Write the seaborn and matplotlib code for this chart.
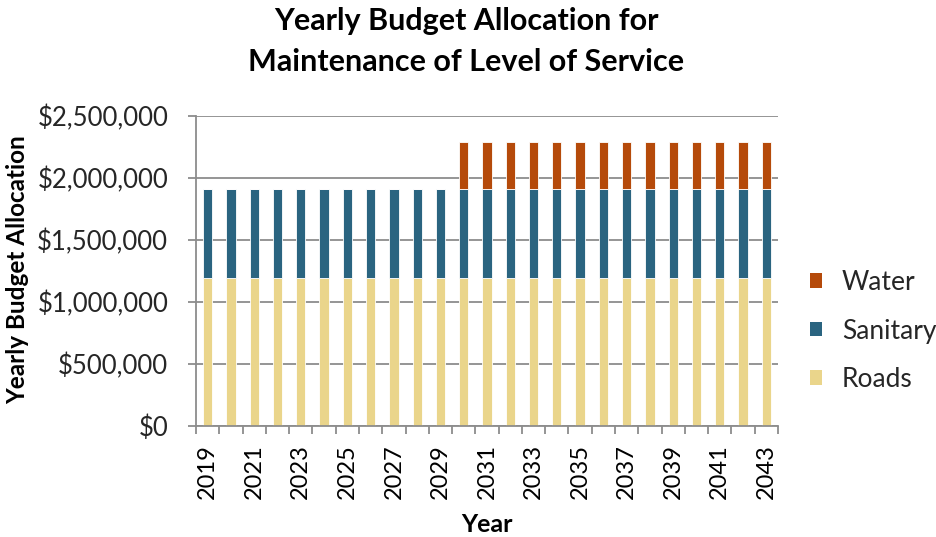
import matplotlib
matplotlib.use("Agg")
import matplotlib.pyplot as plt
import matplotlib.ticker as mticker
from matplotlib.patches import Patch
import seaborn as sns
import numpy as np
import pandas as pd

years = list(range(2019, 2044))
roads = [1190000] * 25
sanitary = [720000] * 25
water = [0] * 11 + [380000] * 14
series_order = ["Roads", "Sanitary", "Water"]
legend_order = ["Water", "Sanitary", "Roads"]
title_lines = ["Yearly Budget Allocation for", "Maintenance of Level of Service"]

sns.set_theme(style="white")
plt.rcParams["font.family"] = ["Lato", "DejaVu Sans"]

colors = {"Roads": "#EAD58B", "Sanitary": "#2A6480", "Water": "#B54A0A"}
grid_c = "#8C8C8C"

df = pd.DataFrame({"Year": [str(y) for y in years], "Roads": roads,
                   "Sanitary": sanitary, "Water": water})

W, H = 937, 537
fig = plt.figure(figsize=(W / 100, H / 100), dpi=100)
ax = fig.add_axes([196 / W, 1 - 426 / H, (778 - 196) / W, (426 - 116) / H])

bottom = np.zeros(len(years))
for name in series_order:
    sns.barplot(data=df, x="Year", y=name, bottom=bottom, color=colors[name],
                width=0.4, edgecolor="#FFFFFF", linewidth=0.6, ax=ax,
                saturation=1)
    bottom = bottom + df[name].to_numpy()

ax.set_ylim(0, 2500000)
ax.set_xlim(-0.5, len(years) - 0.5)
ax.yaxis.set_major_locator(mticker.MultipleLocator(500000))
ax.yaxis.set_major_formatter(mticker.FuncFormatter(lambda v, p: f"${v:,.0f}"))
ax.grid(axis="y", color=grid_c, linewidth=1.3)
ax.set_axisbelow(True)

for s in ["top", "right"]:
    ax.spines[s].set_visible(False)
for s in ["left", "bottom"]:
    ax.spines[s].set_color(grid_c)
    ax.spines[s].set_linewidth(1.3)

# category labels every other year, tick marks between categories
ax.set_xticks(range(0, len(years), 2))
ax.set_xticklabels([str(y) for y in years[::2]], rotation=90)
ax.set_xticks(np.arange(-0.5, len(years), 1.0), minor=True)
ax.tick_params(axis="x", which="major", length=0, pad=13, labelsize=17, colors="#000000")
ax.tick_params(axis="x", which="minor", length=6, width=1.3, color=grid_c, bottom=True)
ax.tick_params(axis="y", which="major", length=6, width=1.3, color=grid_c, left=True,
               pad=14, labelsize=18.5, labelcolor="#262626")

ax.set_xlabel("")
ax.set_ylabel("")
fig.text(487 / W, 1 - 525 / H, "Year", ha="center", va="center",
         fontsize=18, fontweight="bold", color="#000000")
fig.text(18 / W, 1 - 270 / H, "Yearly Budget Allocation", ha="center", va="center",
         rotation=90, fontsize=17.5, fontweight="bold", color="#000000")

for line, yc in zip(title_lines, [21, 62]):
    fig.text(466 / W, 1 - yc / H, line, ha="center", va="center",
             fontsize=22, fontweight="bold", color="#000000")

handles = [Patch(facecolor=colors[n], edgecolor="none") for n in legend_order]
fig.legend(handles, legend_order, loc="center left",
           bbox_to_anchor=(786 / W, 1 - 331 / H), frameon=False, fontsize=19,
           handlelength=0.47, handleheight=0.47, labelspacing=0.89, handletextpad=0.75)

fig.savefig("out.png", dpi=100)
